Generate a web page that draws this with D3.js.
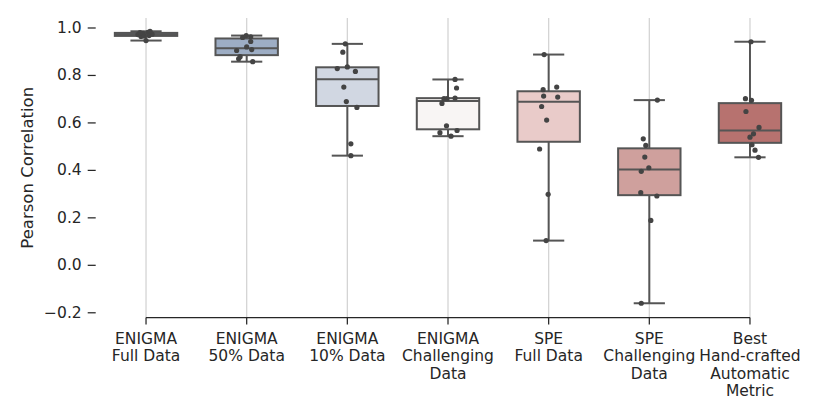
<!DOCTYPE html>
<html>
<head>
<meta charset="utf-8">
<script src="https://cdn.jsdelivr.net/npm/d3@7"></script>
<style>
  body { margin: 0; background: #fff; }
  svg, svg text { font-family: "DejaVu Sans", sans-serif; }
  .axis text { fill: #262626; font-size: 15.5px; font-family: "DejaVu Sans", sans-serif; }
  .axis line { stroke: #262626; stroke-width: 1.25; }
</style>
</head>
<body>
<div id="chart"></div>
<script>
// Category labels (line breaks as in the figure)
var categories = [
  ["ENIGMA", "Full Data"],
  ["ENIGMA", "50% Data"],
  ["ENIGMA", "10% Data"],
  ["ENIGMA", "Challenging", "Data"],
  ["SPE", "Full Data"],
  ["SPE", "Challenging", "Data"],
  ["Best", "Hand-crafted", "Automatic", "Metric"]
];

// Per-run Pearson correlations
var enigmaFull        = [0.945, 0.962, 0.964, 0.966, 0.970, 0.972, 0.975, 0.978, 0.980, 0.984];
var enigma50          = [0.856, 0.868, 0.877, 0.903, 0.907, 0.918, 0.941, 0.958, 0.961, 0.966];
var enigma10          = [0.460, 0.510, 0.663, 0.688, 0.749, 0.815, 0.827, 0.834, 0.896, 0.931];
var enigmaChallenging = [0.542, 0.557, 0.566, 0.586, 0.680, 0.700, 0.700, 0.703, 0.745, 0.781];
var speFull           = [0.102, 0.297, 0.488, 0.610, 0.667, 0.707, 0.711, 0.738, 0.749, 0.886];
var speChallenging    = [-0.162, 0.187, 0.290, 0.304, 0.394, 0.409, 0.454, 0.503, 0.531, 0.694];
var bestHandcrafted   = [0.453, 0.483, 0.506, 0.538, 0.552, 0.579, 0.646, 0.693, 0.700, 0.940];

// Horizontal jitter of each point (fraction of category spacing), as seen in the figure
var jitterEnigmaFull  = [0.00, -0.05, -0.02, 0.03, -0.08, 0.06, -0.03, -0.06, 0.02, 0.04];
var jitterEnigma50    = [0.06, -0.08, -0.065, -0.10, 0.05, 0.00, 0.04, -0.04, 0.04, -0.005];
var jitterEnigma10    = [0.035, 0.035, 0.095, -0.01, -0.035, 0.08, -0.10, 0.00, -0.045, -0.02];
var jitterEnigmaChal  = [0.03, -0.08, 0.09, -0.015, -0.06, -0.04, -0.01, 0.07, 0.085, 0.07];
var jitterSpeFull     = [-0.025, -0.005, -0.09, -0.02, -0.07, 0.09, -0.05, -0.055, 0.08, -0.045];
var jitterSpeChal     = [-0.08, 0.015, 0.075, -0.085, -0.08, -0.005, -0.045, -0.035, -0.06, 0.08];
var jitterBest        = [0.085, 0.05, 0.02, 0.00, 0.035, 0.09, -0.04, 0.015, -0.045, 0.01];

var yTicks = [-0.2, 0.0, 0.2, 0.4, 0.6, 0.8, 1.0];
var boxColors = ["#6f87ad", "#9dadc4", "#d1d7e2", "#f8f5f4", "#e9cbc9", "#cfa09d", "#b7726f"];

var series = [enigmaFull, enigma50, enigma10, enigmaChallenging, speFull, speChallenging, bestHandcrafted];
var jitters = [jitterEnigmaFull, jitterEnigma50, jitterEnigma10, jitterEnigmaChal, jitterSpeFull, jitterSpeChal, jitterBest];

var width = 830, height = 415;
var plot = { left: 95.7, right: 800.3, top: 18, bottom: 317.5 };

var svg = d3.select("#chart").append("svg")
  .attr("width", width)
  .attr("height", height);

var keys = categories.map(function (c) { return c.join(" "); });

var x = d3.scaleBand()
  .domain(keys)
  .range([plot.left, plot.right])
  .padding(0);

var cx = function (i) { return x(keys[i]) + x.bandwidth() / 2; };

var y = d3.scaleLinear()
  .domain([-0.222, 1.04])
  .range([plot.bottom, plot.top]);

// Vertical grid lines at each category
svg.append("g").selectAll("line")
  .data(keys)
  .enter().append("line")
    .attr("x1", function (d, i) { return cx(i); })
    .attr("x2", function (d, i) { return cx(i); })
    .attr("y1", plot.top)
    .attr("y2", plot.bottom)
    .style("stroke", "#d4d4d4")
    .style("stroke-width", 1.3);

// Box statistics
var stats = series.map(function (vals) {
  var s = vals.slice().sort(d3.ascending);
  return {
    q1: d3.quantile(s, 0.25),
    med: d3.quantile(s, 0.5),
    q3: d3.quantile(s, 0.75),
    lo: s[0],
    hi: s[s.length - 1]
  };
});

var boxW = x.bandwidth() * 0.62;
var lineColor = "#555555";

var boxes = svg.append("g").selectAll("g")
  .data(stats)
  .enter().append("g");

// whiskers
boxes.append("line")
  .attr("x1", function (d, i) { return cx(i); })
  .attr("x2", function (d, i) { return cx(i); })
  .attr("y1", function (d) { return y(d.hi); })
  .attr("y2", function (d) { return y(d.q3); });
boxes.append("line")
  .attr("x1", function (d, i) { return cx(i); })
  .attr("x2", function (d, i) { return cx(i); })
  .attr("y1", function (d) { return y(d.q1); })
  .attr("y2", function (d) { return y(d.lo); });
// caps
boxes.append("line")
  .attr("x1", function (d, i) { return cx(i) - boxW / 4; })
  .attr("x2", function (d, i) { return cx(i) + boxW / 4; })
  .attr("y1", function (d) { return y(d.hi); })
  .attr("y2", function (d) { return y(d.hi); });
boxes.append("line")
  .attr("x1", function (d, i) { return cx(i) - boxW / 4; })
  .attr("x2", function (d, i) { return cx(i) + boxW / 4; })
  .attr("y1", function (d) { return y(d.lo); })
  .attr("y2", function (d) { return y(d.lo); });
// box
boxes.append("rect")
  .attr("x", function (d, i) { return cx(i) - boxW / 2; })
  .attr("width", boxW)
  .attr("y", function (d) { return y(d.q3); })
  .attr("height", function (d) { return y(d.q1) - y(d.q3); })
  .style("fill", function (d, i) { return boxColors[i]; });
// median
boxes.append("line")
  .attr("x1", function (d, i) { return cx(i) - boxW / 2; })
  .attr("x2", function (d, i) { return cx(i) + boxW / 2; })
  .attr("y1", function (d) { return y(d.med); })
  .attr("y2", function (d) { return y(d.med); });

boxes.selectAll("line, rect")
  .style("stroke", lineColor)
  .style("stroke-width", 2);

// Strip plot points
var points = [];
series.forEach(function (vals, i) {
  vals.forEach(function (v, j) {
    points.push({ i: i, v: v, jit: jitters[i][j] });
  });
});

svg.append("g").selectAll("circle")
  .data(points)
  .enter().append("circle")
    .attr("cx", function (d) { return cx(d.i) + d.jit * x.bandwidth(); })
    .attr("cy", function (d) { return y(d.v); })
    .attr("r", 2.6)
    .style("fill", "#444444");

// Y axis (ticks only, no spine)
var yAxis = d3.axisLeft(y)
  .tickValues(yTicks)
  .tickFormat(d3.format(".1f"))
  .tickSize(8)
  .tickPadding(6)
  .tickSizeOuter(0);

var gy = svg.append("g")
  .attr("class", "axis")
  .attr("transform", "translate(" + plot.left + ",0)")
  .call(yAxis);
gy.select(".domain").remove();
gy.attr("font-family", null).attr("font-size", null);

// X axis, spine trimmed to first/last category
var xAxis = d3.axisBottom(x)
  .tickSize(7)
  .tickSizeOuter(0);

var gx = svg.append("g")
  .attr("class", "axis")
  .attr("transform", "translate(0," + plot.bottom + ")")
  .call(xAxis);
gx.select(".domain").remove();
gx.attr("font-family", null).attr("font-size", null);
gx.append("line")
  .attr("x1", cx(0))
  .attr("x2", cx(keys.length - 1))
  .attr("y1", 0)
  .attr("y2", 0);

gx.selectAll(".tick text").each(function (d, i) {
  var t = d3.select(this).text("").attr("dy", null).attr("y", 0);
  categories[i].forEach(function (line, k) {
    t.append("tspan")
      .attr("x", 0)
      .attr("y", 26 + k * 17.6)
      .text(line);
  });
});

// Y axis label
svg.append("text")
  .attr("transform", "translate(33," + ((plot.top + plot.bottom) / 2) + ") rotate(-90)")
  .attr("text-anchor", "middle")
  .style("font-size", "16.5px")
  .style("fill", "#262626")
  .text("Pearson Correlation");
</script>
</body>
</html>
